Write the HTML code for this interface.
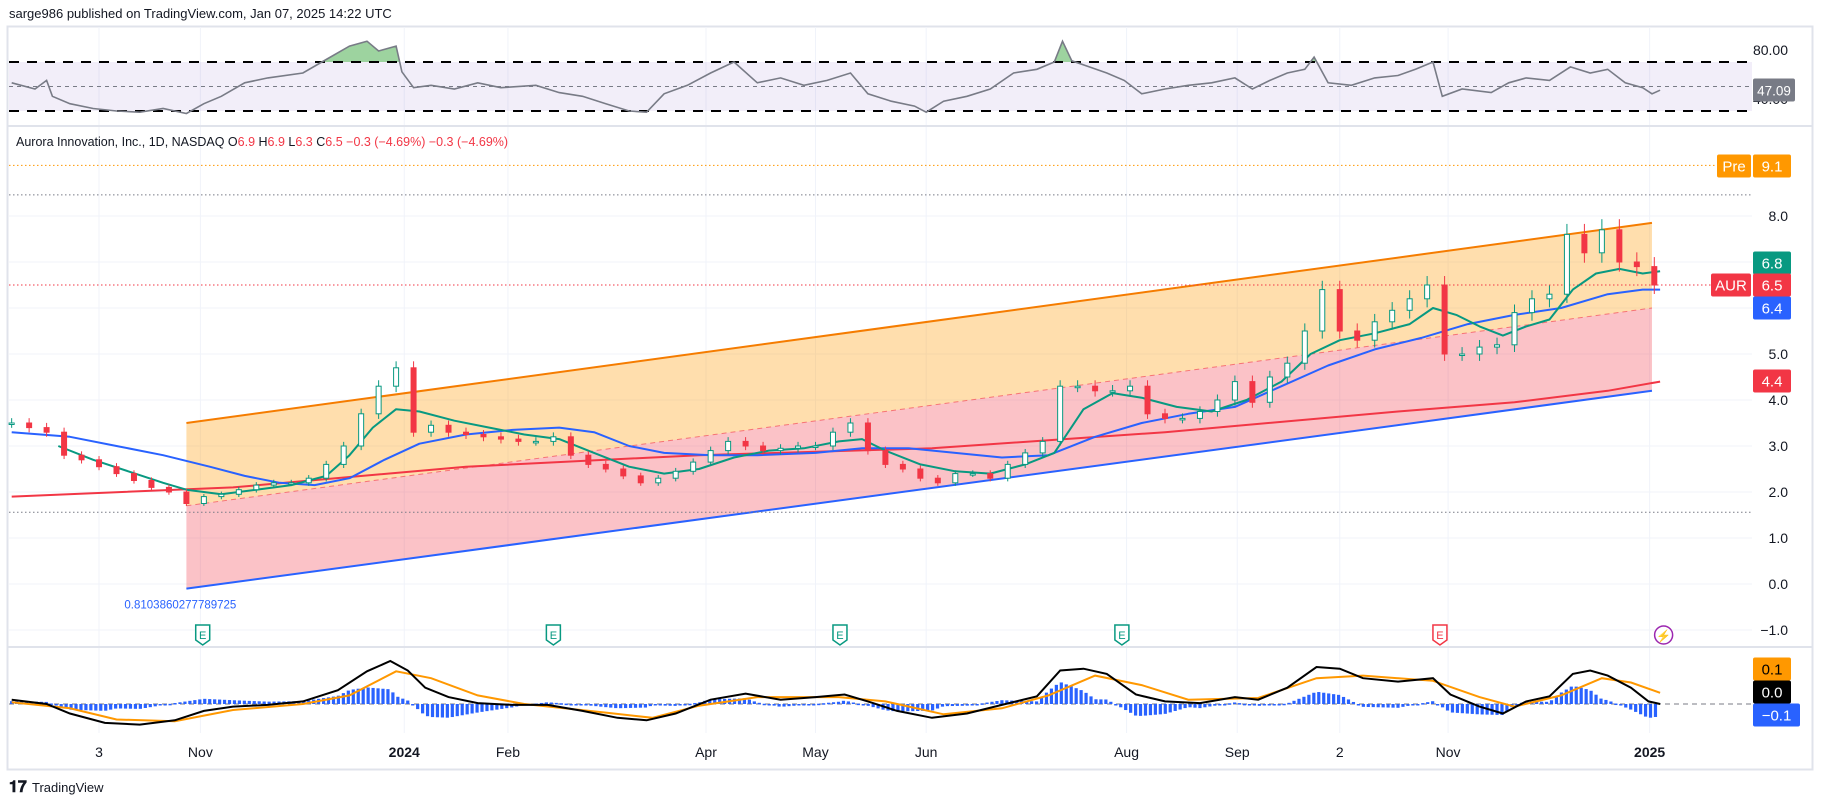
<!DOCTYPE html>
<html><head><meta charset="utf-8">
<style>
html,body{margin:0;padding:0;background:#fff;}
body{width:1827px;height:805px;overflow:hidden;font-family:"Liberation Sans",sans-serif;}
svg text{font-family:"Liberation Sans",sans-serif;}
</style></head>
<body>
<svg id="chart" width="1827" height="805" viewBox="0 0 1827 805" xmlns="http://www.w3.org/2000/svg">
  <text x="9" y="18" font-size="13" fill="#131722">sarge986 published on TradingView.com, Jan 07, 2025 14:22 UTC</text>
  <rect x="7.5" y="26.5" width="1805" height="743" fill="none" stroke="#e0e3eb" stroke-width="2"/>
  <g id="grid"></g>
  <g id="rsi"></g>
  <g id="price"></g>
  <g id="macd"></g>
  <g id="axes"></g>
  <text x="16" y="146" font-size="12.5" fill="#131722">Aurora Innovation, Inc., 1D, NASDAQ <tspan fill="#131722">O</tspan><tspan fill="#f23645">6.9</tspan> <tspan fill="#131722"> H</tspan><tspan fill="#f23645">6.9</tspan> <tspan fill="#131722"> L</tspan><tspan fill="#f23645">6.3</tspan> <tspan fill="#131722"> C</tspan><tspan fill="#f23645">6.5</tspan><tspan fill="#f23645">  −0.3 (−4.69%)  −0.3 (−4.69%)</tspan></text>
  <g>
    <text x="9" y="792" font-size="16" font-weight="bold" fill="#131722">𝟏𝟕</text>
    <text x="32" y="792" font-size="13" fill="#131722">TradingView</text>
  </g>
</svg>
<script>
// ---------- DATA ----------
const candleT = [10,25,40,55,70,85,100,115,130,145,160,175,190,205,220,235,250,265,280,295,310,325,340,355,370,385,400,415,430,445,460,475,490,505,520,535,550,565,580,595,610,625,640,655,670,685,700,715,730,745,760,775,790,805,820,835,850,865,880,895,910,925,940,955,970,985,1000,1015,1030,1045,1060,1075,1090,1105,1120,1135,1150,1165,1180,1195,1210,1225,1240,1255,1270,1285,1300,1315,1330,1345,1360,1375,1390,1405,1420];
const closes = [3.5,3.4,3.3,2.8,2.7,2.55,2.4,2.25,2.1,2.0,1.75,1.9,1.95,2.05,2.15,2.2,2.2,2.3,2.6,3.0,3.7,4.3,4.7,3.3,3.45,3.3,3.25,3.2,3.15,3.1,3.1,3.2,2.8,2.6,2.5,2.35,2.2,2.3,2.45,2.65,2.9,3.1,3.0,2.9,2.95,3.0,3.0,3.3,3.5,2.9,2.6,2.5,2.3,2.2,2.4,2.4,2.3,2.6,2.85,3.1,4.3,4.3,4.2,4.2,4.3,3.7,3.6,3.6,3.75,4.0,4.4,3.95,4.5,4.8,5.5,6.4,5.5,5.3,5.7,5.95,6.2,6.5,5.0,5.0,5.15,5.2,5.9,6.2,6.3,7.6,7.2,7.7,7.0,6.9,6.5];
const ma20T = [50,80,110,140,160,190,220,250,280,300,320,340,360,390,420,450,480,510,540,570,600,630,660,690,720,740,760,790,820,850,880,905,930,955,980,1010,1040,1070,1100,1125,1150,1180,1210,1230,1250,1270,1290,1310,1330,1350,1370,1390,1410,1425];
const ma20 = [3.0,2.7,2.45,2.2,2.05,1.95,2.05,2.15,2.35,2.8,3.4,3.8,3.75,3.55,3.4,3.25,3.15,2.85,2.55,2.4,2.5,2.75,2.9,2.95,3.1,3.15,2.9,2.6,2.45,2.4,2.6,2.85,3.8,4.15,4.05,3.85,3.75,4.0,4.4,5.0,5.3,5.45,5.65,6.0,5.85,5.6,5.4,5.6,5.75,6.4,6.75,6.85,6.75,6.8];
const ma50T = [10,60,100,140,180,210,240,270,300,330,360,400,440,480,510,540,570,610,650,700,740,780,820,860,900,940,980,1020,1060,1100,1140,1180,1220,1260,1300,1340,1380,1410,1425];
const ma50 = [3.3,3.2,3.0,2.8,2.55,2.35,2.2,2.15,2.3,2.7,3.05,3.25,3.35,3.4,3.3,3.0,2.85,2.8,2.8,2.85,2.95,2.95,2.85,2.75,2.8,3.2,3.5,3.7,3.85,4.3,4.75,5.1,5.35,5.65,5.85,6.0,6.3,6.4,6.4];
const ma200T = [10,200,400,600,800,1000,1200,1300,1380,1425];
const ma200 = [1.9,2.1,2.55,2.8,2.95,3.3,3.75,3.95,4.2,4.4];
const channelT = [160,1418];
const channelUpper = [3.5,7.85];
const channelMid = [1.7,6.0];
const channelLower = [-0.1,4.2];
const rsiT = [10,30,40,45,60,80,100,120,140,160,175,190,210,230,260,280,300,315,325,340,345,355,370,390,410,430,460,480,500,520,540,555,570,590,610,630,650,670,690,710,730,745,765,785,795,810,830,850,870,890,905,912,920,935,950,965,980,1000,1020,1040,1060,1075,1090,1105,1120,1128,1140,1160,1180,1200,1215,1230,1238,1255,1280,1295,1310,1330,1348,1365,1380,1395,1410,1418,1425];
const rsiVals = [53,48,55,42,36,32,30,29,32,28,36,42,53,57,61,72,83,87,79,83,62,49,51,48,53,49,51,45,42,36,30,29,44,51,61,70,53,57,51,55,61,44,38,34,29,38,42,48,61,64,70,87,71,66,61,55,44,48,51,53,57,48,55,61,64,74,53,51,57,59,64,70,42,48,45,53,57,55,66,61,64,53,49,44,47];
const macdT = [10,40,60,90,120,150,175,200,230,260,290,315,335,350,365,385,410,440,470,500,530,555,580,610,640,670,700,725,745,770,800,830,860,890,910,930,950,975,1000,1030,1060,1080,1105,1130,1150,1170,1200,1230,1245,1270,1290,1310,1330,1350,1365,1380,1400,1415,1425];
const macdVals = [0.05,0,-0.11,-0.22,-0.24,-0.19,-0.08,-0.03,-0.01,0.03,0.16,0.38,0.5,0.39,0.19,0.08,0.01,-0.01,-0.01,-0.08,-0.16,-0.19,-0.11,0.05,0.12,0.05,0.08,0.11,0.03,-0.08,-0.16,-0.11,-0.01,0.09,0.39,0.41,0.35,0.11,0.03,0.01,0.08,0.05,0.19,0.43,0.41,0.3,0.26,0.3,0.11,-0.03,-0.11,0.03,0.09,0.35,0.39,0.33,0.19,0.03,0];
const signalT = [10,60,100,150,200,260,300,340,370,410,450,520,560,600,650,720,760,810,860,900,940,980,1020,1080,1130,1170,1230,1270,1300,1340,1375,1400,1425];
const signalVals = [0.02,-0.05,-0.18,-0.2,-0.07,0.0,0.1,0.38,0.3,0.1,0.0,-0.1,-0.16,-0.02,0.08,0.08,0.03,-0.12,-0.05,0.1,0.33,0.22,0.05,0.07,0.3,0.33,0.27,0.08,-0.03,0.1,0.3,0.25,0.13];
const priceTicks = [-1,0,1,2,3,4,5,8];
const timeLabels = ["3","Nov","2024","Feb","Apr","May","Jun","Aug","Sep","2","Nov","2025"];
const timeLabelT = [85,172,347,436,606,700,795,967,1062,1150,1243,1416];
const earningsT = [174,475,721,963,1236];

// ---------- SCALES ----------
const NS="http://www.w3.org/2000/svg";
const X = t => t*1.165;
const PY = p => 584 - p*46;
const RY = r => 86.5 - (r-50)*1.225;
const MY = m => 704 - m*86;
const PLOT_R = 1752;
function mk(parent, tag, attrs){const e=document.createElementNS(NS,tag);for(const k in attrs)e.setAttribute(k,attrs[k]);document.getElementById(parent).appendChild(e);return e;}
function interp(ts, vs, t){ if(t<=ts[0])return vs[0]; for(let i=1;i<ts.length;i++){if(t<=ts[i]){const f=(t-ts[i-1])/(ts[i]-ts[i-1]);return vs[i-1]+f*(vs[i]-vs[i-1]);}} return vs[vs.length-1];}
function pathOf(ts, vs, fx, fy){return ts.map((t,i)=>(i?'L':'M')+fx(t).toFixed(1)+' '+fy(vs[i]).toFixed(1)).join(' ');}

// ---------- GRID ----------
[-1,0,1,2,3,4,5,6,7,8].forEach(p=>{const l=mk('grid','line',{x1:9,x2:PLOT_R,y1:PY(p),y2:PY(p),stroke:'#f0f3fa'});

});
timeLabelT.forEach(t=>{const l=mk('grid','line',{x1:X(t),x2:X(t),y1:27,y2:733,stroke:'#f0f3fa'});

});
[[126,'rsi-pane-border'],[647,'macd-pane-border']].forEach(([y,n])=>{const l=mk('grid','line',{x1:8,x2:1812,y1:y,y2:y,stroke:'#e0e3eb','stroke-width':2});

});

// ---------- RSI ----------
{const b=mk('rsi','rect',{x:9,y:RY(70),width:PLOT_R-9,height:RY(30)-RY(70),fill:'#7e57c2','fill-opacity':0.1});

}
{const clip=mk('rsi','clipPath',{id:'obclip'});const r=document.createElementNS(NS,'rect');r.setAttribute('x',0);r.setAttribute('y',0);r.setAttribute('width',1827);r.setAttribute('height',RY(70));clip.appendChild(r);
const d=pathOf(rsiT,rsiVals,X,RY)+' L'+X(rsiT[rsiT.length-1])+' '+RY(70)+' L'+X(rsiT[0])+' '+RY(70)+' Z';
const f=mk('rsi','path',{d:d,fill:'#4caf50','fill-opacity':0.55,'clip-path':'url(#obclip)'});

}
[[70,'rsi-upper-band'],[30,'rsi-lower-band']].forEach(([v,n])=>{const l=mk('rsi','line',{x1:9,x2:PLOT_R,y1:RY(v),y2:RY(v),stroke:'#000','stroke-width':2,'stroke-dasharray':'10 8'});

});
{const l=mk('rsi','line',{x1:9,x2:PLOT_R,y1:RY(50),y2:RY(50),stroke:'#787b86','stroke-dasharray':'4 4'});

}
{const p=mk('rsi','path',{d:pathOf(rsiT,rsiVals,X,RY),fill:'none',stroke:'#787b86','stroke-width':1.6});

}

// ---------- PRICE ----------
const cu=channelUpper, cm=channelMid, cl=channelLower, ct=channelT;
{const p=mk('price','path',{d:`M${X(ct[0])} ${PY(cu[0])} L${X(ct[1])} ${PY(cu[1])} L${X(ct[1])} ${PY(cm[1])} L${X(ct[0])} ${PY(cm[0])} Z`,fill:'#ff9800','fill-opacity':0.32});

}
{const p=mk('price','path',{d:`M${X(ct[0])} ${PY(cm[0])} L${X(ct[1])} ${PY(cm[1])} L${X(ct[1])} ${PY(cl[1])} L${X(ct[0])} ${PY(cl[0])} Z`,fill:'#f23645','fill-opacity':0.3});

}
{const l=mk('price','line',{x1:X(ct[0]),y1:PY(cm[0]),x2:X(ct[1]),y2:PY(cm[1]),stroke:'#f23645','stroke-opacity':0.6,'stroke-dasharray':'5 4'});

}
{const l=mk('price','line',{x1:X(ct[0]),y1:PY(cu[0]),x2:X(ct[1]),y2:PY(cu[1]),stroke:'#f57c00','stroke-width':2});

}
{const l=mk('price','line',{x1:X(ct[0]),y1:PY(cl[0]),x2:X(ct[1]),y2:PY(cl[1]),stroke:'#2962ff','stroke-width':2});

}
{const t=mk('price','text',{x:X(ct[0])-62,y:PY(cl[0])+20,'font-size':11.5,fill:'#2962ff'});t.textContent='0.8103860277789725';

}
[[9.1,'#ff9800','premarket-line'],[8.46,'#787b86','high-line'],[1.56,'#787b86','low-line'],[6.5,'#f23645','last-price-line']].forEach(([v,c,n])=>{const l=mk('price','line',{x1:9,x2:PLOT_R,y1:PY(v),y2:PY(v),stroke:c,'stroke-dasharray':'1.5 2.5'});

});
[[ma200T,ma200,'#f23645','ma-200-line'],[ma50T,ma50,'#2962ff','ma-50-line'],[ma20T,ma20,'#089981','ma-20-line']].forEach(([ts,vs,c,n])=>{const p=mk('price','path',{d:pathOf(ts,vs,X,PY),fill:'none',stroke:c,'stroke-width':2,'stroke-linejoin':'round'});

});
candleT.forEach((t,i)=>{
  const c=closes[i], o=i?closes[i-1]:c;
  const up=c>=o, col=up?'#089981':'#f23645';
  const hi=Math.max(o,c)*1.03, lo=Math.min(o,c)*0.97;
  const x=X(t);
  const w=mk('price','line',{x1:x,x2:x,y1:PY(hi),y2:PY(lo),stroke:col,'stroke-width':1});
  
  
  const top=PY(Math.max(o,c)), h=Math.max(1.5,PY(Math.min(o,c))-top);
  const r=mk('price','rect',{x:x-2.5,y:top,width:5,height:h,fill:up?'#fff':col,stroke:col,'stroke-width':1});
  
  
});
earningsT.forEach((t,i)=>{const x=X(t), red=i===earningsT.length-1, col=red?'#f23645':'#089981';
  const g=mk('price','path',{d:`M${x-7} ${625} L${x+7} ${625} L${x+7} ${640} L${x} ${645} L${x-7} ${640} Z`,fill:'#fff',stroke:col,'stroke-width':1.5});
  
  
  const tx=mk('price','text',{x:x,y:639,'font-size':11,'text-anchor':'middle',fill:col});tx.textContent='E';
  
  });
{const x=X(1428);const c=mk('price','circle',{cx:x,cy:635,r:9,fill:'#fff',stroke:'#9c27b0','stroke-width':1.5});


const t=mk('price','text',{x:x,y:640,'font-size':12,'text-anchor':'middle',fill:'#9c27b0'});t.textContent='⚡';

}

// ---------- MACD ----------
{const l=mk('macd','line',{x1:9,x2:1752,y1:MY(0),y2:MY(0),stroke:'#787b86','stroke-dasharray':'5 4'});

}
for(let t=10;t<=1425;t+=4.25){
  const h=(interp(macdT,macdVals,t)-interp(signalT,signalVals,t))*1.1;
  const y0=MY(0), y1=MY(h);
  const b=mk('macd','rect',{x:X(t)-1.6,y:Math.min(y0,y1),width:3.2,height:Math.max(1.5,Math.abs(y1-y0)),fill:'#2962ff'});
  
  
}
{const p=mk('macd','path',{d:pathOf(signalT,signalVals,X,MY),fill:'none',stroke:'#ff9800','stroke-width':2});

}
{const p=mk('macd','path',{d:pathOf(macdT,macdVals,X,MY),fill:'none',stroke:'#000','stroke-width':2});

}

// ---------- AXES ----------
priceTicks.forEach(p=>{const t=mk('axes','text',{x:1788,y:PY(p)+5,'font-size':14,'text-anchor':'end',fill:'#131722'});t.textContent=(p<0?'−':'')+Math.abs(p).toFixed(1);

});
{const t=mk('axes','text',{x:1788,y:55,'font-size':14,'text-anchor':'end',fill:'#131722'});t.textContent='80.00';

}
{const t=mk('axes','text',{x:1788,y:104,'font-size':14,'text-anchor':'end',fill:'#131722'});t.textContent='40.00';

}
timeLabels.forEach((s,i)=>{const t=mk('axes','text',{x:X(timeLabelT[i]),y:757,'font-size':14,'text-anchor':'middle',fill:'#131722','font-weight':(s==='2024'||s==='2025')?'bold':'normal'});t.textContent=s;

});
function badge(x,y,w,txt,bg,fg,name,fs){const r=mk('axes','rect',{x:x,y:y-11.5,width:w,height:23,fill:bg,rx:2});


const t=mk('axes','text',{x:x+w/2,y:y+5.5,'font-size':fs||15,'text-anchor':'middle',fill:fg});t.textContent=txt;

}
badge(1753,90,42,'47.09','#787b86','#fff','rsi-value-badge',13.5);
badge(1717,166,34,'Pre','#ff9800','#fff','premarket-tag');
badge(1753,166,38,'9.1','#ff9800','#fff','premarket-value-badge');
badge(1753,263,38,'6.8','#089981','#fff','ma20-value-badge');
badge(1711,285,40,'AUR','#f23645','#fff','symbol-tag');
badge(1753,285,38,'6.5','#f23645','#fff','last-price-badge');
badge(1753,308,38,'6.4','#2962ff','#fff','ma50-value-badge');
badge(1753,381,38,'4.4','#f23645','#fff','ma200-value-badge');
badge(1753,669,38,'0.1','#ff9800','#000','macd-signal-badge');
badge(1753,692,38,'0.0','#000','#fff','macd-value-badge');
badge(1753,715,47,'−0.1','#2962ff','#fff','macd-histogram-badge');
</script>
</body></html>
